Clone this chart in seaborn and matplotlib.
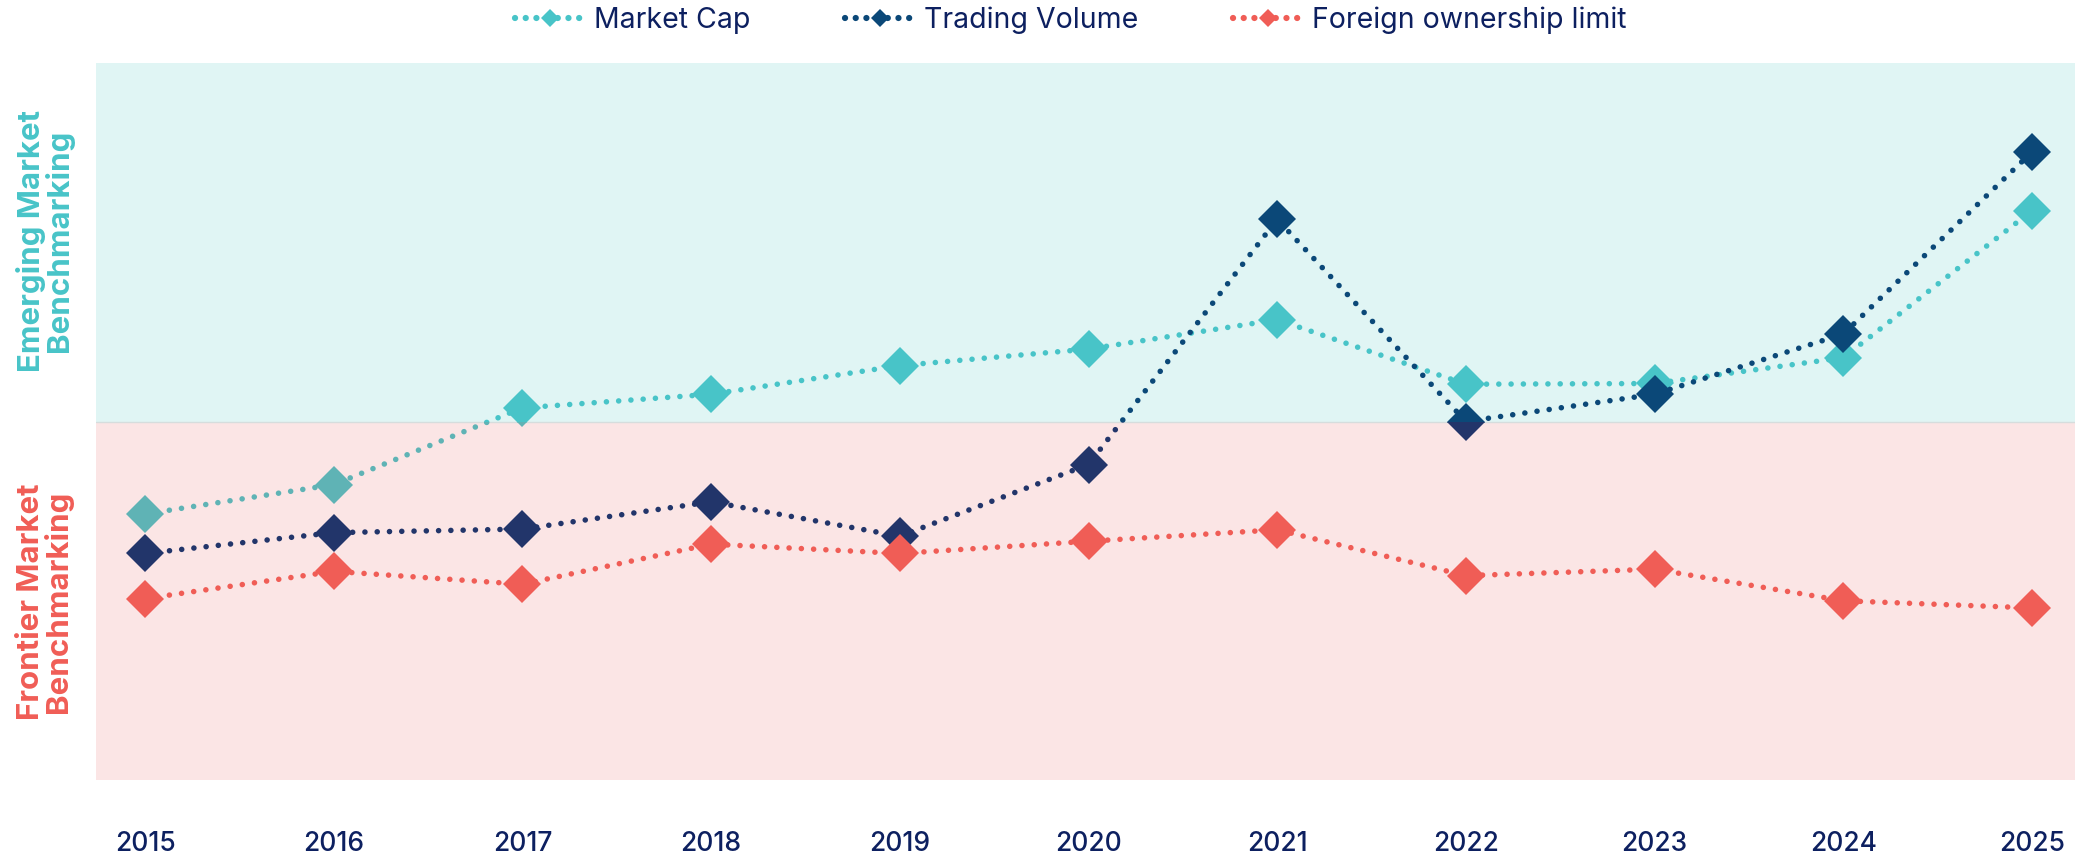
import matplotlib
matplotlib.use("Agg")
import matplotlib.pyplot as plt
from matplotlib.lines import Line2D
import seaborn as sns

years = list(range(2015, 2026))
market_cap = [37.1, 41.2, 51.9, 53.8, 57.8, 60.1, 64.2, 55.2, 55.3, 58.9, 79.4]
trading_volume = [31.6, 34.5, 35.0, 38.8, 34.0, 44.0, 78.2, 50.0, 53.8, 62.2, 87.6]
foreign_limit = [25.3, 29.1, 27.3, 32.9, 31.6, 33.3, 34.9, 28.5, 29.4, 25.0, 24.0]
labels = ["Market Cap", "Trading Volume", "Foreign ownership limit"]
zones = ["Emerging Market\nBenchmarking", "Frontier Market\nBenchmarking"]

# (emerging colour, frontier colour) per series
colors = [("#48c4c8", "#5fb3b5"), ("#0b4878", "#22356a"), ("#f05d56", "#f05d56")]
navy = "#0d2060"
dotted = (0, (0.01, 2.2))

sns.set_style("white")
plt.rcParams['font.family'] = ['Inter', 'DejaVu Sans']

fig = plt.figure(figsize=(20.75, 8.61), dpi=100)
ax = fig.add_axes([96 / 2075, 1 - 780 / 861, 1 - 96 / 2075, (780 - 63) / 861])

top = ax.axhspan(50, 100, color="#e0f5f4", lw=0, zorder=0)
bottom = ax.axhspan(0, 50, color="#fbe5e5", lw=0, zorder=0)
ax.axhline(50, color="#d6dddd", lw=1, zorder=0.5)

for vals, (c_up, c_down) in zip([market_cap, trading_volume, foreign_limit], colors):
    for col, clip in ((c_up, top), (c_down, bottom)):
        sns.lineplot(x=years, y=vals, ax=ax, color=col, marker="D", markersize=19.5,
                     markeredgewidth=0, lw=4, linestyle=dotted, dash_capstyle="round")
        ax.lines[-1].set_clip_path(clip)

ax.set_xlim(2015 - 0.26, 2025 + 0.228)
ax.set_ylim(0, 100)
ax.set_yticks([])
ax.set_xticks(years)
ax.set_xticklabels([str(y) for y in years], fontsize=19, color=navy, fontweight="medium")
ax.tick_params(axis="x", length=0, pad=37)
ax.set_xlabel("")
ax.set_ylabel("")
for s in ax.spines.values():
    s.set_visible(False)

fig.text(45 / 2075, 1 - 241 / 861, zones[0], rotation=90, ha="center", va="center",
         color="#48c4c8", fontsize=22.5, fontweight="bold", linespacing=0.92)
fig.text(45 / 2075, 1 - 602 / 861, zones[1], rotation=90, ha="center", va="center",
         color="#f05d56", fontsize=22.5, fontweight="bold", linespacing=0.92)

handles = [Line2D([], [], color=c[0], lw=4.5, linestyle=(0, (0.01, 1.7)),
                  dash_capstyle="round", marker="D", markersize=9, markeredgewidth=0)
           for c in colors]
fig.legend(handles, labels, loc="upper center", bbox_to_anchor=(0.516, 1.022), ncol=3,
           frameon=False, fontsize=20.5, handlelength=2.5, columnspacing=3.3,
           handletextpad=0.3, labelcolor=navy, numpoints=1)

fig.savefig("out.png", dpi=100)
plt.close(fig)
